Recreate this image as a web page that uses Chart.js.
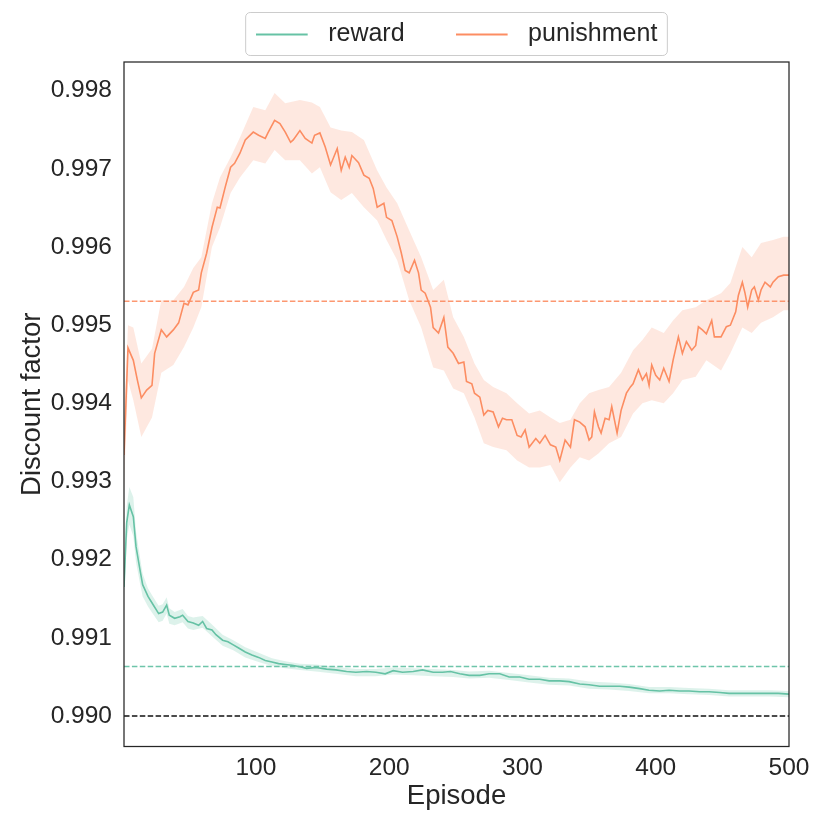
<!DOCTYPE html>
<html>
<head>
<meta charset="utf-8">
<script src="https://cdn.jsdelivr.net/npm/chart.js@4.4.1/dist/chart.umd.min.js"></script>
<style>
  html, body { margin: 0; padding: 0; background: #ffffff; }
  #c { display: block; }
</style>
</head>
<body>
<canvas id="c" width="830" height="830"></canvas>
<script>
// ---------------- data ----------------
const seriesNames = ['reward', 'punishment'];
const xTickValues = [100, 200, 300, 400, 500];
const yTickValues = [0.990, 0.991, 0.992, 0.993, 0.994, 0.995, 0.996, 0.997, 0.998];

const punEpisodes = [
  1,4,8,11,14,18,22,24,29,33,
  38,42,46,49,53,57,59,63,67,71,
  73,77,81,84,88,92,98,102,107,109,
  114,118,122,126,128,133,137,142,144,148,
  152,156,161,164,167,170,172,177,181,185,
  188,191,196,198,202,206,209,212,215,219,
  222,224,227,231,233,237,241,244,248,252,
  256,258,262,264,268,271,274,278,282,285,
  288,292,296,299,302,305,310,313,317,321,
  325,328,332,336,339,343,347,350,352,354,
  357,359,362,365,367,371,374,378,381,383,
  387,390,393,395,397,400,403,406,410,413,
  417,420,423,427,430,432,435,438,442,444,
  449,453,456,460,462,465,467,469,472,474,
  477,479,482,486,488,492,496,500
];
const punMean = [
  0.99334,0.99471,0.99455,0.99430,0.99407,0.99417,0.99423,0.99464,0.99494,0.99485,
  0.99494,0.99503,0.99528,0.99526,0.99542,0.99545,0.99567,0.99592,0.99625,0.99651,
  0.99650,0.99677,0.99702,0.99707,0.99720,0.99737,0.99747,0.99743,0.99739,0.99746,
  0.99762,0.99758,0.99747,0.99734,0.99737,0.99749,0.99739,0.99733,0.99743,0.99746,
  0.99728,0.99705,0.99726,0.99698,0.99715,0.99702,0.99717,0.99708,0.99692,0.99688,
  0.99675,0.99651,0.99656,0.99638,0.99634,0.99613,0.99593,0.99570,0.99567,0.99583,
  0.99567,0.99545,0.99541,0.99523,0.99497,0.99490,0.99510,0.99472,0.99464,0.99451,
  0.99453,0.99428,0.99425,0.99413,0.99408,0.99385,0.99391,0.99389,0.99370,0.99381,
  0.99379,0.99379,0.99359,0.99357,0.99366,0.99344,0.99355,0.99349,0.99359,0.99347,
  0.99344,0.99327,0.99353,0.99344,0.99379,0.99376,0.99370,0.99353,0.99357,0.99389,
  0.99370,0.99362,0.99381,0.99379,0.99396,0.99362,0.99391,0.99413,0.99421,0.99425,
  0.99443,0.99430,0.99438,0.99423,0.99449,0.99436,0.99430,0.99445,0.99428,0.99455,
  0.99485,0.99464,0.99479,0.99468,0.99474,0.99498,0.99494,0.99489,0.99506,0.99485,
  0.99485,0.99498,0.99500,0.99517,0.99538,0.99555,0.99541,0.99523,0.99545,0.99549,
  0.99532,0.99545,0.99555,0.99549,0.99555,0.99562,0.99564,0.99564
];

const punBandEpisodes = [
  1,4,8,14,22,29,38,46,53,59,
  67,73,81,88,98,107,114,122,133,142,
  148,156,164,172,181,191,198,206,215,224,
  233,241,248,256,264,271,278,288,296,305,
  313,321,328,336,343,350,357,365,374,383,
  390,397,406,413,420,430,438,449,456,465,
  472,479,488,496,500
];
const punUpper = [
  0.99380,0.99500,0.99497,0.99451,0.99470,0.99532,0.99532,0.99549,0.99573,0.99587,
  0.99656,0.99689,0.99715,0.99740,0.99779,0.99775,0.99797,0.99784,0.99788,0.99785,
  0.99779,0.99753,0.99749,0.99747,0.99737,0.99698,0.99676,0.99656,0.99621,0.99587,
  0.99545,0.99558,0.99510,0.99485,0.99451,0.99430,0.99421,0.99413,0.99400,0.99387,
  0.99391,0.99382,0.99375,0.99379,0.99400,0.99413,0.99417,0.99421,0.99439,0.99468,
  0.99481,0.99497,0.99490,0.99506,0.99519,0.99523,0.99532,0.99541,0.99554,0.99600,
  0.99587,0.99605,0.99609,0.99613,0.99613
];
const punLower = [
  0.99290,0.99429,0.99404,0.99357,0.99382,0.99439,0.99449,0.99472,0.99497,0.99523,
  0.99600,0.99625,0.99669,0.99689,0.99711,0.99707,0.99724,0.99711,0.99711,0.99694,
  0.99702,0.99670,0.99660,0.99669,0.99651,0.99634,0.99609,0.99583,0.99532,0.99497,
  0.99446,0.99442,0.99419,0.99413,0.99382,0.99349,0.99344,0.99340,0.99327,0.99318,
  0.99318,0.99321,0.99299,0.99318,0.99331,0.99327,0.99336,0.99349,0.99357,0.99387,
  0.99400,0.99404,0.99400,0.99413,0.99430,0.99434,0.99455,0.99442,0.99464,0.99497,
  0.99490,0.99503,0.99510,0.99519,0.99519
];

const rewEpisodes = [
  1,3,5,8,10,13,15,19,23,27,
  30,33,35,39,43,45,49,53,57,60,
  63,67,70,75,79,83,87,92,97,102,
  107,112,117,122,127,133,138,145,153,160,
  168,175,183,190,197,203,210,218,225,233,
  240,246,253,260,268,275,283,290,298,305,
  313,320,328,335,343,350,358,365,373,380,
  388,395,403,410,418,425,433,440,448,455,
  463,470,478,485,492,500
];
const rewMean = [
  0.99165,0.99247,0.99270,0.99255,0.99217,0.99187,0.99168,0.99153,0.99142,0.99131,
  0.99133,0.99142,0.99129,0.99125,0.99127,0.99129,0.99121,0.99119,0.99116,0.99121,
  0.99112,0.99110,0.99104,0.99097,0.99095,0.99091,0.99087,0.99082,0.99078,0.99075,
  0.99071,0.99069,0.99067,0.99066,0.99065,0.99063,0.99061,0.99062,0.99060,0.99059,
  0.99057,0.99056,0.99057,0.99056,0.99054,0.99058,0.99056,0.99057,0.99059,0.99056,
  0.99056,0.99057,0.99054,0.99052,0.99052,0.99054,0.99054,0.99050,0.99050,0.99047,
  0.99047,0.99045,0.99045,0.99044,0.99041,0.99040,0.99038,0.99038,0.99038,0.99037,
  0.99035,0.99033,0.99032,0.99033,0.99032,0.99032,0.99031,0.99031,0.99030,0.99029,
  0.99029,0.99029,0.99029,0.99029,0.99029,0.99028
];

const rewBandEpisodes = [
  1,3,5,8,10,13,15,19,23,27,
  30,33,35,39,45,49,53,60,67,75,
  83,92,102,112,122,133,145,160,175,190,
  203,218,233,248,260,275,290,305,320,335,
  350,365,380,395,410,425,440,455,470,485,500
];
const rewUpper = [
  0.99180,0.99268,0.99293,0.99280,0.99236,0.99203,0.99182,0.99163,0.99152,0.99141,
  0.99143,0.99152,0.99138,0.99133,0.99137,0.99128,0.99126,0.99128,0.99117,0.99104,
  0.99097,0.99088,0.99081,0.99074,0.99070,0.99067,0.99066,0.99063,0.99060,0.99060,
  0.99062,0.99061,0.99060,0.99059,0.99057,0.99058,0.99055,0.99052,0.99049,0.99048,
  0.99044,0.99043,0.99041,0.99037,0.99037,0.99036,0.99035,0.99033,0.99033,0.99033,0.99032
];
const rewLower = [
  0.99150,0.99225,0.99245,0.99230,0.99197,0.99170,0.99153,0.99140,0.99130,0.99120,
  0.99122,0.99131,0.99118,0.99116,0.99120,0.99112,0.99110,0.99113,0.99102,0.99090,
  0.99084,0.99075,0.99069,0.99064,0.99061,0.99059,0.99057,0.99054,0.99051,0.99051,
  0.99053,0.99052,0.99051,0.99050,0.99048,0.99049,0.99046,0.99043,0.99040,0.99039,
  0.99035,0.99034,0.99032,0.99029,0.99029,0.99028,0.99027,0.99025,0.99025,0.99025,0.99024
];

const rewardAverage = 0.990633;
const punishmentAverage = 0.995307;
const baselineLevel = 0.990;
const xRange = [1, 500];
const yRange = [0.98961, 0.998367];

// ---------------- styles ----------------
const GREEN = '#66c2a5';
const ORANGE = '#fc8d62';
const TEXT = '#262626';
const FONT = "'Liberation Sans', Arial, Helvetica, sans-serif";

function pts(xs, ys) { return xs.map((x, i) => ({ x: x, y: ys[i] })); }
function flat(level) { return [{ x: xRange[0], y: level }, { x: xRange[1], y: level }]; }
function legendLine(color) {
  const c = document.createElement('canvas');
  c.width = 60; c.height = 6;
  const g = c.getContext('2d');
  g.strokeStyle = color; g.lineWidth = 1.8;
  g.beginPath(); g.moveTo(0, 3); g.lineTo(52, 3); g.stroke();
  return c;
}

const lineBase = { pointRadius: 0, pointHoverRadius: 0, tension: 0, fill: false };

const datasets = [
  Object.assign({}, lineBase, { label: seriesNames[0], data: pts(rewEpisodes, rewMean),
    borderColor: GREEN, backgroundColor: GREEN, borderWidth: 1.6, pointStyle: legendLine(GREEN) }),
  Object.assign({}, lineBase, { label: seriesNames[1], data: pts(punEpisodes, punMean),
    borderColor: ORANGE, backgroundColor: ORANGE, borderWidth: 1.6, pointStyle: legendLine(ORANGE) }),
  Object.assign({}, lineBase, { label: 'rewardAvg', data: flat(rewardAverage),
    borderColor: 'rgba(102,194,165,0.95)', borderWidth: 1.4, borderDash: [5.5, 2.4] }),
  Object.assign({}, lineBase, { label: 'punAvg', data: flat(punishmentAverage),
    borderColor: 'rgba(252,141,98,0.9)', borderWidth: 1.4, borderDash: [5.5, 2.4] }),
  Object.assign({}, lineBase, { label: 'baseline', data: flat(baselineLevel),
    borderColor: '#111111', borderWidth: 1.4, borderDash: [5.5, 2.4] }),
  Object.assign({}, lineBase, { label: 'rewLo', data: pts(rewBandEpisodes, rewLower),
    borderWidth: 0, borderColor: 'rgba(0,0,0,0)' }),
  Object.assign({}, lineBase, { label: 'rewHi', data: pts(rewBandEpisodes, rewUpper),
    borderWidth: 0, borderColor: 'rgba(0,0,0,0)', fill: { target: 5 }, backgroundColor: 'rgba(102,194,165,0.22)' }),
  Object.assign({}, lineBase, { label: 'punLo', data: pts(punBandEpisodes, punLower),
    borderWidth: 0, borderColor: 'rgba(0,0,0,0)' }),
  Object.assign({}, lineBase, { label: 'punHi', data: pts(punBandEpisodes, punUpper),
    borderWidth: 0, borderColor: 'rgba(0,0,0,0)', fill: { target: 7 }, backgroundColor: 'rgba(252,141,98,0.2)' })
];

const framePlugin = {
  id: 'framePlugin',
  afterLayout(chart) {
    const lg = chart.legend;
    if (lg) { lg.top -= 5; lg.bottom -= 5; }
  },
  afterDatasetsDraw(chart) {
    const a = chart.chartArea, ctx = chart.ctx;
    ctx.save();
    ctx.strokeStyle = TEXT; ctx.lineWidth = 1.25;
    ctx.strokeRect(a.left, a.top, a.right - a.left, a.bottom - a.top);
    ctx.restore();
  },
  afterDraw(chart) {
    const lg = chart.legend;
    if (!lg || !lg.legendHitBoxes || !lg.legendHitBoxes.length) return;
    const hb = lg.legendHitBoxes;
    const first = hb[0], last = hb[hb.length - 1];
    const x0 = first.left - 10, x1 = last.left + last.width + 10;
    const y0 = first.top - 9.5, y1 = first.top + first.height + 8.5;
    const r = 4.5, ctx = chart.ctx;
    ctx.save();
    ctx.strokeStyle = '#cccccc'; ctx.lineWidth = 1;
    ctx.beginPath();
    ctx.moveTo(x0 + r, y0); ctx.lineTo(x1 - r, y0); ctx.arcTo(x1, y0, x1, y0 + r, r);
    ctx.lineTo(x1, y1 - r); ctx.arcTo(x1, y1, x1 - r, y1, r);
    ctx.lineTo(x0 + r, y1); ctx.arcTo(x0, y1, x0, y1 - r, r);
    ctx.lineTo(x0, y0 + r); ctx.arcTo(x0, y0, x0 + r, y0, r);
    ctx.closePath(); ctx.stroke();
    ctx.restore();
  }
};

Chart.defaults.font.family = FONT;
Chart.defaults.color = TEXT;

new Chart(document.getElementById('c'), {
  type: 'line',
  data: { datasets: datasets },
  plugins: [framePlugin],
  options: {
    responsive: false,
    devicePixelRatio: 1,
    animation: false,
    events: [],
    layout: { padding: { top: -24, right: 41, bottom: 0, left: 0 } },
    plugins: {
      tooltip: { enabled: false },
      legend: {
        display: true,
        position: 'top',
        fullSize: false,
        labels: {
          usePointStyle: true,
          pointStyleWidth: 60,
          padding: 51,
          color: TEXT,
          font: { size: 25, family: FONT },
          filter: (item) => item.datasetIndex < 2
        }
      }
    },
    scales: {
      x: {
        type: 'linear',
        min: xRange[0], max: xRange[1],
        grid: { display: false, drawTicks: false },
        border: { display: false },
        afterBuildTicks: (s) => { s.ticks = xTickValues.map(v => ({ value: v })); },
        afterFit: (s) => { s.height = 83.5; },
        ticks: { color: TEXT, font: { size: 24.5, family: FONT }, padding: 7, maxRotation: 0,
          autoSkip: false, callback: (v) => String(v) },
        title: { display: true, text: 'Episode', color: TEXT,
          font: { size: 27.5, family: FONT }, padding: { top: 0, bottom: 17.5 } }
      },
      y: {
        type: 'linear',
        min: yRange[0], max: yRange[1],
        grid: { display: false, drawTicks: false },
        border: { display: false },
        afterBuildTicks: (s) => { s.ticks = yTickValues.map(v => ({ value: v })); },
        afterFit: (s) => { s.width = 124; },
        ticks: { color: TEXT, font: { size: 24.5, family: FONT }, padding: 12,
          autoSkip: false, callback: (v) => Number(v).toFixed(3) },
        title: { display: true, text: 'Discount factor', color: TEXT,
          font: { size: 27.5, family: FONT }, padding: { top: 15.5, bottom: 0 } }
      }
    }
  }
});
</script>
</body>
</html>
